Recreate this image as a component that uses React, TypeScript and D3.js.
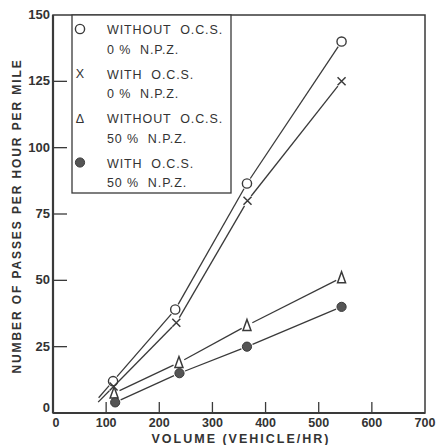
import React from "react";
import * as d3 from "d3";

const xTicks = [0, 100, 200, 300, 400, 500, 600, 700];
const yTicks = [0, 25, 50, 75, 100, 125, 150];

const seriesNames = ["withoutOcs0", "withOcs0", "withoutOcs50", "withOcs50"];
const legendLine1 = ["WITHOUT  O.C.S.", "WITH  O.C.S.", "WITHOUT  O.C.S.", "WITH  O.C.S."];
const legendLine2 = ["0 %  N.P.Z.", "0 %  N.P.Z.", "50 %  N.P.Z.", "50 %  N.P.Z."];
const markerTypes = ["circle", "x", "triangle", "dot"];

const withoutOcs0X = [113, 230, 365, 543];
const withoutOcs0Y = [12, 39, 86.5, 140];
const withOcs0X = [114, 232, 366, 543];
const withOcs0Y = [10, 34, 80, 125];
const withoutOcs50X = [115, 237, 365, 543];
const withoutOcs50Y = [7.5, 19, 33, 51];
const withOcs50X = [117, 238, 365, 543];
const withOcs50Y = [4, 15, 25, 40];

const seriesX = [withoutOcs0X, withOcs0X, withoutOcs50X, withOcs50X];
const seriesY = [withoutOcs0Y, withOcs0Y, withoutOcs50Y, withOcs50Y];
const extendBelow = [true, true, false, false];

const W = 440, H = 445;
const left = 53, right = 425, top = 15, bottom = 413;
const ink = "#3a3a3a";
const font = "'Liberation Sans', Arial, sans-serif";

function Marker({ type, x, y }: { type: string; x: number; y: number }) {
  if (type === "circle")
    return <circle cx={x} cy={y} r={4.6} fill="white" stroke={ink} strokeWidth={1.4} />;
  if (type === "dot")
    return <circle cx={x} cy={y} r={4.6} fill="#555" stroke={ink} strokeWidth={1} />;
  if (type === "triangle") {
    const s = 5;
    return (
      <path
        d={`M${x},${y - s - 1}L${x + s * 0.8},${y + s}L${x - s * 0.8},${y + s}Z`}
        fill="white"
        stroke={ink}
        strokeWidth={1.5}
      />
    );
  }
  const s = 4;
  return (
    <path
      d={`M${x - s},${y - s}L${x + s},${y + s}M${x + s},${y - s}L${x - s},${y + s}`}
      stroke={ink}
      strokeWidth={1.5}
    />
  );
}

export default function App() {
  const x = d3.scaleLinear().domain([0, 700]).range([left, right]);
  const y = d3.scaleLinear().domain([0, 150]).range([bottom, top]);
  const gap = 6;

  const segments: JSX.Element[] = [];
  seriesNames.forEach((name, si) => {
    const xs = seriesX[si], ys = seriesY[si];
    for (let i = 0; i < xs.length - 1; i++) {
      const x1 = x(xs[i]), y1 = y(ys[i]), x2 = x(xs[i + 1]), y2 = y(ys[i + 1]);
      const dx = x2 - x1, dy = y2 - y1;
      const L = Math.hypot(dx, dy);
      const ux = dx / L, uy = dy / L;
      segments.push(
        <line key={`${name}-${i}`} x1={x1 + ux * gap} y1={y1 + uy * gap} x2={x2 - ux * gap} y2={y2 - uy * gap}
          stroke={ink} strokeWidth={1.3} />
      );
      if (i === 0 && extendBelow[si]) {
        segments.push(
          <line key={`${name}-ext`} x1={x1 - ux * gap} y1={y1 - uy * gap} x2={x1 - ux * (gap + 16)} y2={y1 - uy * (gap + 16)}
            stroke={ink} strokeWidth={1.3} />
        );
      }
    }
  });

  const pre = { whiteSpace: "pre" as const };

  return (
    <svg width={W} height={H} style={{ position: "absolute", left: 0, top: 0, background: "white" }}>
      <rect x={0} y={0} width={W} height={H} fill="white" />
      {/* frame */}
      <rect x={left} y={top} width={right - left} height={bottom - top} fill="none" stroke={ink} strokeWidth={1.5} />
      <line x1={left} y1={top} x2={left} y2={bottom} stroke={ink} strokeWidth={2.2} />
      <line x1={left} y1={bottom} x2={right} y2={bottom} stroke={ink} strokeWidth={2} />
      {/* y ticks */}
      {yTicks.map((t) => (
        <g key={`yt${t}`}>
          {t > 0 && t < 150 && <line x1={left} x2={left + 14} y1={y(t)} y2={y(t)} stroke={ink} strokeWidth={1.3} />}
          <text x={left - 3} y={y(t) + (t === 0 ? -1 : 4)} textAnchor="end" fontFamily={font} fontSize={13} fill="#333" fontWeight="bold">
            {t}
          </text>
        </g>
      ))}
      {/* x ticks */}
      {xTicks.map((t) => (
        <g key={`xt${t}`}>
          {t > 0 && t < 700 && <line x1={x(t)} x2={x(t)} y1={bottom} y2={bottom - 11} stroke={ink} strokeWidth={1.3} />}
          <text x={x(t) + (t === 0 ? 3 : 0)} y={bottom + 14} textAnchor="middle" fontFamily={font} fontSize={12.5} fill="#333" fontWeight="bold">
            {t}
          </text>
        </g>
      ))}
      {/* axis titles */}
      <text x={241} y={443} textAnchor="middle" fontFamily={font} fontSize={12.5} fill="#333" fontWeight="bold" letterSpacing={2}>
        VOLUME (VEHICLE/HR)
      </text>
      <text transform={`translate(21,${216}) rotate(-90)`} textAnchor="middle" fontFamily={font} fontSize={12} fill="#333" fontWeight="bold" letterSpacing={1.9}>
        NUMBER OF PASSES PER HOUR PER MILE
      </text>
      {/* lines */}
      {segments}
      {/* markers */}
      {seriesNames.map((name, si) =>
        seriesX[si].map((v, i) => <Marker key={`${name}-m${i}`} type={markerTypes[si]} x={x(v)} y={y(seriesY[si][i])} />)
      )}
      {/* legend */}
      <rect x={72} y={top} width={159} height={178} fill="white" stroke={ink} strokeWidth={1.3} />
      {seriesNames.map((name, si) => {
        const y0 = 29 + si * 44.5;
        return (
          <g key={`lg${name}`}>
            {markerTypes[si] === "x" ? (
              <text x={80} y={y0 + 4.5} textAnchor="middle" fontFamily={font} fontSize={12.5} fill="#333">X</text>
            ) : markerTypes[si] === "triangle" ? (
              <text x={80} y={y0 + 4.5} textAnchor="middle" fontFamily={font} fontSize={12.5} fill="#333">Δ</text>
            ) : (
              <Marker type={markerTypes[si]} x={80} y={y0} />
            )}
            <text x={107} y={y0 + 5} fontFamily={font} fontSize={12.5} fill="#333" letterSpacing={0.9} style={pre}>
              {legendLine1[si]}
            </text>
            <text x={107} y={y0 + 24.5} fontFamily={font} fontSize={12.5} fill="#333" letterSpacing={0.9} style={pre}>
              {legendLine2[si]}
            </text>
          </g>
        );
      })}
    </svg>
  );
}
